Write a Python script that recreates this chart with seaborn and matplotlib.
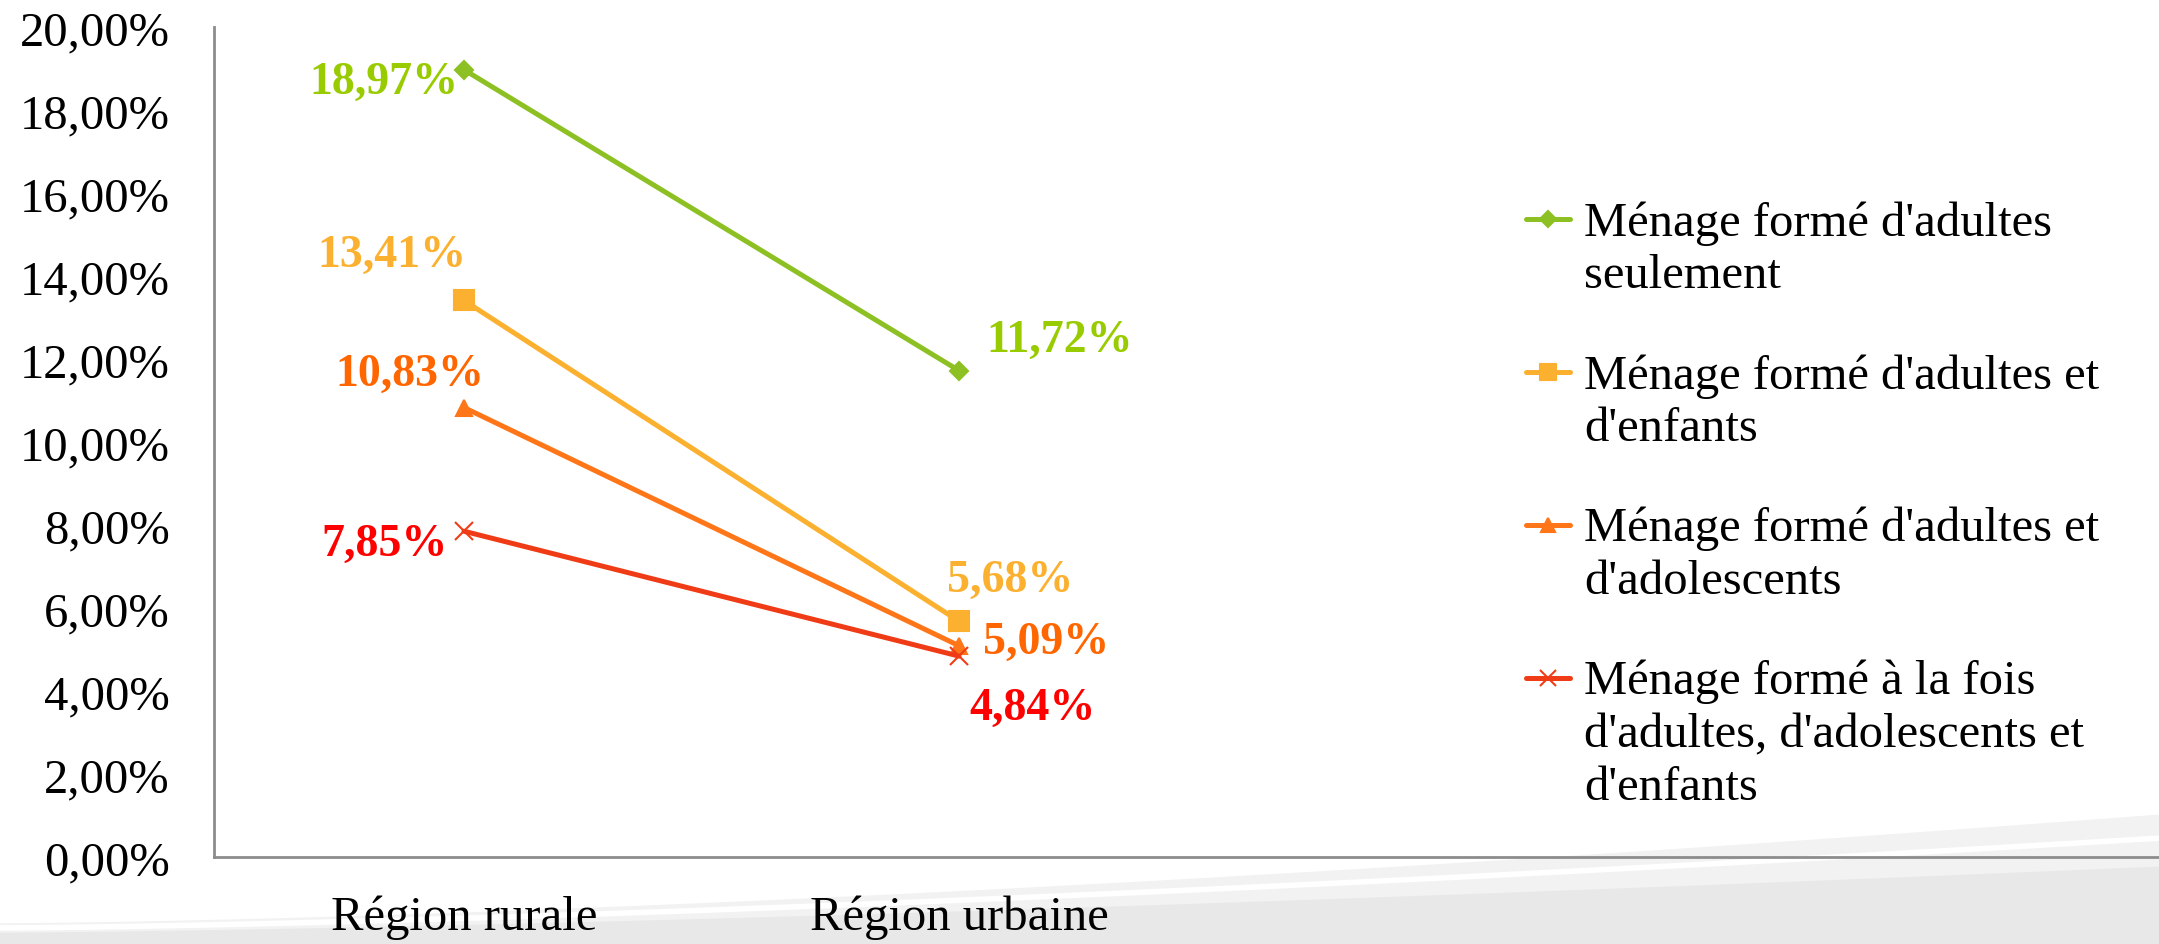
import matplotlib
matplotlib.use("Agg")
import matplotlib.pyplot as plt
import seaborn as sns
import pandas as pd
import numpy as np
from matplotlib.ticker import FuncFormatter, MultipleLocator
from matplotlib.lines import Line2D

categories = ["Région rurale", "Région urbaine"]
series_names = [
    "Ménage formé d'adultes\nseulement",
    "Ménage formé d'adultes et\nd'enfants",
    "Ménage formé d'adultes et\nd'adolescents",
    "Ménage formé à la fois\nd'adultes, d'adolescents et\nd'enfants",
]
adultes_seuls = [18.97, 11.72]
adultes_enfants = [13.41, 5.68]
adultes_ados = [10.83, 5.09]
tous = [7.85, 4.84]
all_values = [adultes_seuls, adultes_enfants, adultes_ados, tous]

line_colors = ["#8DC022", "#FBB12F", "#FF7618", "#F03C16"]
label_colors = ["#99CC00", "#FBB12F", "#FF6600", "#FF0000"]
markers = ["D", "s", "^", "x"]
marker_sizes = [9, 14, 12, 13]

# label offsets (points) for each series at each category
offsets = [[(-4, -9), (20, 22)],
           [(-52, 33), (-9, 30)],
           [(-39, 24), (17, 3)],
           [(-12, -9), (53, -37)]]
aligns = [["right", "left"], ["center", "left"], ["center", "left"], ["right", "center"]]

rows = []
for name, vals in zip(series_names, all_values):
    for i, (c, v) in enumerate(zip(categories, vals)):
        rows.append({"series": name, "pos": i, "region": c, "value": v})
df = pd.DataFrame(rows)

sns.set_style("white")
plt.rcParams["font.family"] = ["Liberation Serif", "DejaVu Serif"]

W, H = 2159, 945
fig = plt.figure(figsize=(W / 100, H / 100), dpi=100)

# decorative background swooshes
bg = fig.add_axes([0, 0, 1, 1], zorder=-10)
bg.set_xlim(0, 1)
bg.set_ylim(0, 1)
bg.axis("off")
xs = np.linspace(0, 1, 200)
bg.fill_between(xs, 0, 0.115 * xs ** 1.5 + 0.022, color="#F2F2F2", lw=0)
bg.fill_between(xs, 0, 0.07 * xs ** 1.4 + 0.012, color="#E8E8E8", lw=0)
bg.plot(xs, 0.095 * xs ** 1.45 + 0.017, color="white", lw=4)

ax = fig.add_axes([214 / W, 1 - 858 / H, 1 - 214 / W, 830 / H])
ax.patch.set_alpha(0)

for name, col, m, ms in zip(series_names, line_colors, markers, marker_sizes):
    sub = df[df["series"] == name]
    sns.lineplot(data=sub, x="pos", y="value", color=col, marker=m, markersize=ms,
                 markerfacecolor=col, markeredgecolor=col, markeredgewidth=1.5,
                 linewidth=3.6, ax=ax, legend=False)

for si, (vals, col) in enumerate(zip(all_values, label_colors)):
    for ci, v in enumerate(vals):
        txt = f"{v:.2f}".replace(".", ",") + "%"
        ax.annotate(txt, xy=(ci, v), xytext=offsets[si][ci], textcoords="offset points",
                    ha=aligns[si][ci], va="center", color=col, fontsize=33,
                    fontweight="bold")

ax.set_xlim(-0.505, 3.424)
ax.set_ylim(0, 20)
ax.yaxis.set_major_locator(MultipleLocator(2))
ax.yaxis.set_major_formatter(FuncFormatter(lambda v, p: f"{v:.2f}".replace(".", ",") + "%"))
ax.set_xticks(range(len(categories)))
ax.set_xticklabels(categories)
ax.tick_params(axis="y", length=0, pad=32, labelsize=35, labelcolor="black")
ax.tick_params(axis="x", length=0, pad=27, labelsize=35, labelcolor="black")
ax.set_xlabel("")
ax.set_ylabel("")
for s in ["top", "right"]:
    ax.spines[s].set_visible(False)
for s in ["left", "bottom"]:
    ax.spines[s].set_color("#8C8C8C")
    ax.spines[s].set_linewidth(2)

# legend: handle aligned with the first line of each (multi-line) label
leg_y0, leg_step = 220, 153
hx0, hx1, tx = 1526, 1570, 1584
for i, (name, col, m, ms) in enumerate(zip(series_names, line_colors, markers, marker_sizes)):
    yc = 1 - (leg_y0 + i * leg_step) / H
    fig.add_artist(Line2D([hx0 / W, hx1 / W], [yc, yc], color=col, linewidth=3.6,
                          transform=fig.transFigure))
    fig.add_artist(Line2D([(hx0 + hx1) / 2 / W], [yc], color=col, marker=m,
                          markersize=ms * 0.85, markerfacecolor=col, markeredgecolor=col,
                          markeredgewidth=1.5, linestyle="none", transform=fig.transFigure))
    fig.text(tx / W, yc + 19 / H, name, ha="left", va="top", fontsize=35,
             linespacing=1.25, color="black")

fig.savefig("out.png", dpi=100)
